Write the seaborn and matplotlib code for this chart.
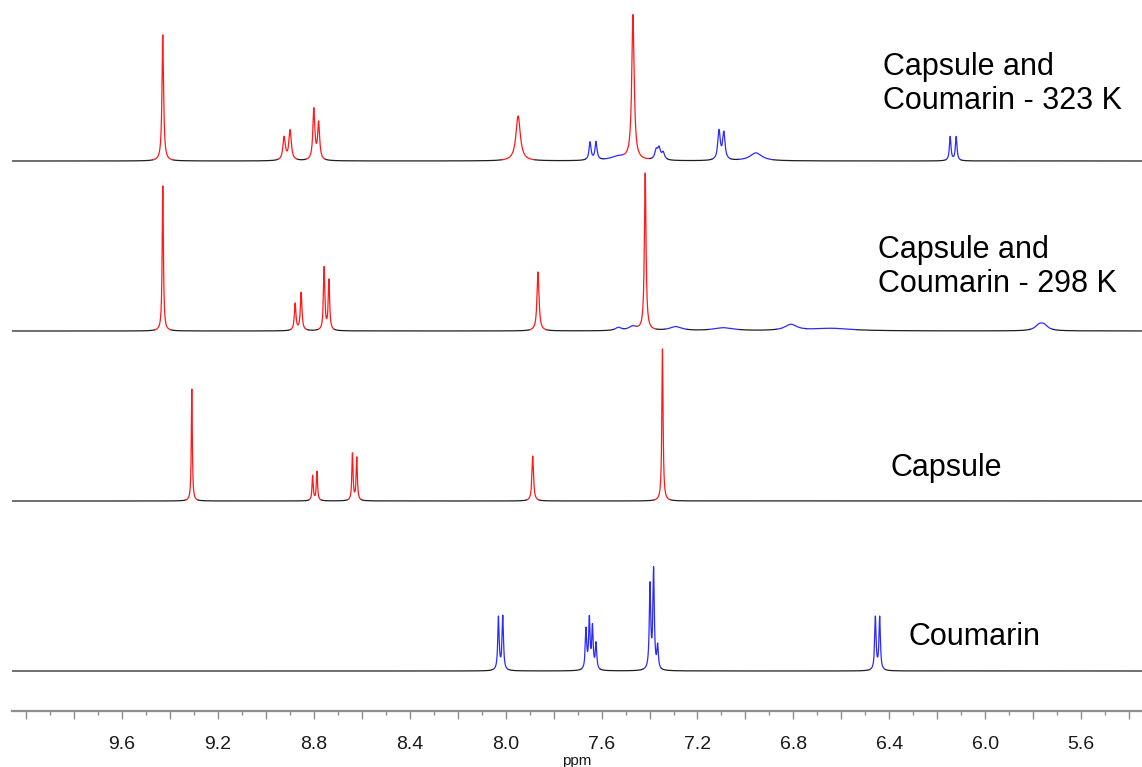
import numpy as np
import pandas as pd
import matplotlib
matplotlib.use("Agg")
import matplotlib.pyplot as plt
from matplotlib.ticker import MultipleLocator, FuncFormatter
import seaborn as sns

sns.set_theme(style="white")
plt.rcParams['font.family'] = ['Liberation Sans', 'DejaVu Sans']

# --- peak tables (ppm, height in px, FWHM in ppm, colour) ---
# Capsule and Coumarin - 323 K
hot_shift = [9.430, 8.924, 8.899, 8.800, 8.780, 7.948, 7.648, 7.623, 7.530,
             7.469, 7.372, 7.360, 7.343, 7.110, 7.090, 6.956, 6.146, 6.121]
hot_height = [126, 23, 30, 51, 37, 45, 18, 18, 4,
              145, 9, 11, 7, 29, 27, 8, 24, 24]
hot_width = [0.008, 0.012, 0.012, 0.010, 0.010, 0.022, 0.010, 0.010, 0.08,
             0.012, 0.014, 0.014, 0.014, 0.012, 0.012, 0.06, 0.008, 0.008]
hot_color = ['red', 'red', 'red', 'red', 'red', 'red', 'blue', 'blue', 'blue',
             'red', 'blue', 'blue', 'blue', 'blue', 'blue', 'blue', 'blue', 'blue']

# Capsule and Coumarin - 298 K
rt_shift = [9.430, 8.878, 8.853, 8.757, 8.737, 7.865, 7.530, 7.470, 7.418,
            7.290, 7.090, 6.810, 6.640, 5.775, 5.755]
rt_height = [145, 27, 38, 63, 50, 59, 3, 4, 157,
             4, 3, 6, 2.5, 5, 5]
rt_width = [0.006, 0.008, 0.008, 0.007, 0.007, 0.010, 0.03, 0.04, 0.008,
            0.06, 0.10, 0.06, 0.20, 0.04, 0.04]
rt_color = ['red', 'red', 'red', 'red', 'red', 'red', 'blue', 'blue', 'red',
            'blue', 'blue', 'blue', 'blue', 'blue', 'blue']

# Capsule
cap_shift = [9.309, 8.805, 8.787, 8.639, 8.621, 7.887, 7.346]
cap_height = [112, 25, 29, 47, 43, 45, 152]
cap_width = [0.005, 0.006, 0.006, 0.006, 0.006, 0.008, 0.006]
cap_color = ['red'] * 7

# Coumarin
cou_shift = [8.030, 8.012, 7.665, 7.651, 7.638, 7.623, 7.398, 7.383, 7.366, 6.458, 6.440]
cou_height = [53, 54, 40, 50, 42, 26, 84, 99, 23, 53, 53]
cou_width = [0.007, 0.007, 0.007, 0.007, 0.007, 0.007, 0.007, 0.007, 0.007, 0.007, 0.007]
cou_color = ['blue'] * 11

labels = ['Capsule and\nCoumarin - 323 K', 'Capsule and\nCoumarin - 298 K', 'Capsule', 'Coumarin']
offsets = [550, 380, 210, 40]

ppm = np.linspace(5.30, 10.10, 14000)


def build(name, offset, shifts, heights, widths, colors, thr=1.2):
    s = np.array(shifts)[:, None]
    h = np.array(heights, dtype=float)[:, None]
    w = np.array(widths)[:, None]
    comps = h / (1 + ((ppm - s) / (w / 2)) ** 2)
    y = comps.sum(0) + offset
    lab = np.where(comps.max(0) > thr, np.array(colors)[comps.argmax(0)], 'black')
    cuts = np.flatnonzero(lab[1:] != lab[:-1]) + 1
    starts = np.r_[0, cuts]
    ends = np.r_[cuts, len(ppm)]
    rows = []
    for k, (a, b) in enumerate(zip(starts, ends)):
        b2 = min(b + 1, len(ppm))
        rows.append(pd.DataFrame({'ppm': ppm[a:b2], 'y': y[a:b2],
                                  'col': lab[a], 'seg': f'{name}-{k}'}))
    return pd.concat(rows)


df = pd.concat([
    build('hot', offsets[0], hot_shift, hot_height, hot_width, hot_color),
    build('rt', offsets[1], rt_shift, rt_height, rt_width, rt_color),
    build('cap', offsets[2], cap_shift, cap_height, cap_width, cap_color),
    build('cou', offsets[3], cou_shift, cou_height, cou_width, cou_color),
])

fig = plt.figure(figsize=(11.42, 7.67), dpi=100)
ax = fig.add_axes([12 / 1142, 56 / 767, 1130 / 1142, 711 / 767])

sns.lineplot(data=df, x='ppm', y='y', hue='col', units='seg', estimator=None,
             sort=False, legend=False, linewidth=0.9, ax=ax,
             palette={'red': '#ff1a1a', 'blue': '#2b2bff', 'black': '#1e1e1e'})

ax.set_xlim(10.059, 5.346)
ax.set_ylim(0, 711)
for sp in ['top', 'left', 'right']:
    ax.spines[sp].set_visible(False)
ax.spines['bottom'].set_color('#8e8e8e')
ax.spines['bottom'].set_linewidth(1.6)
ax.set_yticks([])
ax.set_ylabel('')


def tick_label(v, p):
    # only every 0.4 ppm gets a number, and 10.0 stays blank
    if v > 9.9 or abs(round(v / 0.4) * 0.4 - v) > 1e-6:
        return ''
    return f'{v:.1f}'


ax.xaxis.set_major_locator(MultipleLocator(0.2))
ax.xaxis.set_minor_locator(MultipleLocator(0.1))
ax.xaxis.set_major_formatter(FuncFormatter(tick_label))
ax.tick_params(axis='x', which='major', direction='out', length=6, width=1,
               color='#8e8e8e', bottom=True, pad=12, labelsize=14, labelcolor='#1a1a1a')
ax.tick_params(axis='x', which='minor', direction='out', length=3, width=1,
               color='#8e8e8e', bottom=True)
ax.set_xlabel('ppm', fontsize=11, labelpad=1, color='#1a1a1a')
ax.grid(False)

# spectrum labels
label_pos = [(883, 84), (878, 267), (890, 468), (909, 637)]
for txt, (px, py) in zip(labels, label_pos):
    fig.text(px / 1142, 1 - py / 767, txt, fontsize=22, ha='left', va='center',
             color='black', linespacing=1.2)

fig.savefig('out.png', dpi=100)
